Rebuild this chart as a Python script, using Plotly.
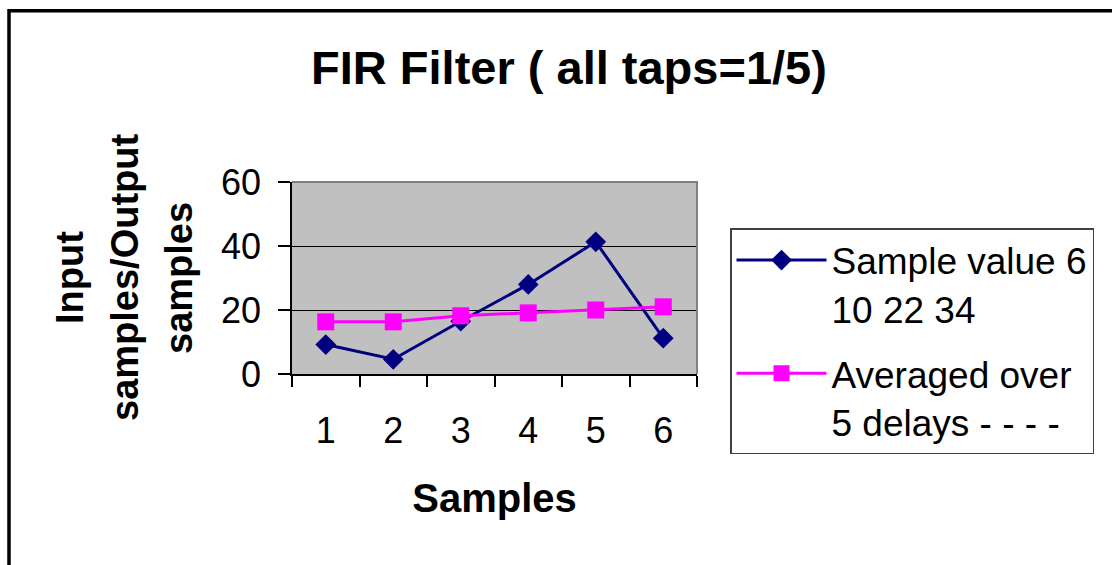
import plotly.graph_objects as go

# Sample index along the x axis
samples = ["1", "2", "3", "4", "5", "6"]
# Raw input samples
input_values = [9.2, 4.6, 16.5, 28.0, 41.3, 11.2]
# Output of the 5-tap moving average
averaged_values = [16.3, 16.3, 18.2, 19.1, 20.0, 21.0]
y_ticks = [0, 20, 40, 60]

W, H = 1112, 565
L, R, T, B = 292, 697, 182, 374   # plot area in pixels
PW, PH = R - L, B - T


def px(x):
    return (x - L) / PW


def py(y):
    return (B - y) / PH


FONT = "Liberation Sans, Arial, sans-serif"

fig = go.Figure()
fig.add_trace(go.Scatter(
    x=samples, y=input_values, mode="lines+markers",
    name="Sample value 6<br>10 22 34", legendgroup="in",
    line=dict(color="#000080", width=3),
    marker=dict(symbol="diamond", size=16, color="#000080"),
))
fig.add_trace(go.Scatter(
    x=samples, y=averaged_values, mode="lines+markers",
    name="Averaged over<br>5 delays - - - -", legendgroup="avg",
    line=dict(color="#FF00FF", width=3),
    marker=dict(symbol="square", size=17, color="#FF00FF"),
))

fig.update_layout(
    width=W, height=H,
    margin=dict(l=L, r=W - R, t=T, b=H - B, pad=0),
    paper_bgcolor="white",
    plot_bgcolor="#C0C0C0",
    font=dict(family=FONT, color="black", size=36),
    title=dict(
        text="<b>FIR Filter ( all taps=1/5)</b>",
        font=dict(size=47, family=FONT, color="black"),
        x=569 / W, xanchor="center", xref="container",
        y=1 - 68 / H, yanchor="middle", yref="container",
    ),
    xaxis=dict(
        type="category", range=[-0.5, 5.5],
        showline=True, linecolor="black", linewidth=1.5,
        ticks="outside", ticklen=11, tickcolor="black", tickwidth=1.5,
        tickson="boundaries", showgrid=False, zeroline=False,
        tickfont=dict(size=36, family=FONT, color="black"),
        ticklabelstandoff=24,
        title=dict(text="<b>Samples</b>", font=dict(size=40, family=FONT, color="black"),
                   standoff=34),
    ),
    yaxis=dict(
        range=[0, 60], tickvals=y_ticks,
        showline=True, linecolor="black", linewidth=1.5,
        ticks="outside", ticklen=12, tickcolor="black", tickwidth=1.5,
        showgrid=True, gridcolor="black", gridwidth=1, zeroline=False,
        tickfont=dict(size=36, family=FONT, color="black"),
        ticklabelstandoff=10,
    ),
    legend=dict(
        x=px(730), y=py(228), xanchor="left", yanchor="top",
        bgcolor="white", bordercolor="#404040", borderwidth=1.5,
        font=dict(size=37, family=FONT, color="black"),
        itemwidth=90, tracegroupgap=14, valign="top",
        maxheight=400,
    ),
    showlegend=True,
)

# y-axis title, three stacked rotated lines
for txt, cx in [("Input", 70), ("samples/Output", 125), ("samples", 179)]:
    fig.add_annotation(
        text=f"<b>{txt}</b>", textangle=-90,
        xref="paper", yref="paper", x=px(cx), y=0.5,
        xanchor="center", yanchor="middle", showarrow=False,
        font=dict(size=38, family=FONT, color="black"),
    )

# grey frame on top and right of the plot area
fig.add_shape(type="path", xref="paper", yref="paper",
              path="M 0,1 L 1,1 L 1,0",
              line=dict(color="#808080", width=2), layer="above")

# outer chart frame (left and top edges)
fig.add_shape(type="path", xref="paper", yref="paper",
              path=f"M {px(9)},{py(575)} L {px(9)},{py(10.7)} L {px(1120)},{py(10.7)}",
              line=dict(color="black", width=3.5), layer="above")

fig.write_html("out.html")
